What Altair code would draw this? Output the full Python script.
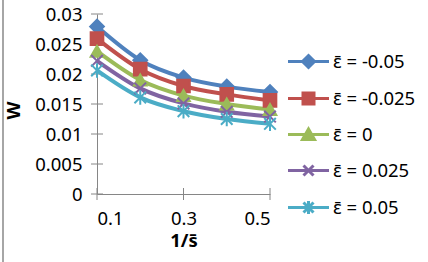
import altair as alt
import pandas as pd

# Wear parameter W versus 1/s for five values of the strain parameter
inv_s = [0.1, 0.2, 0.3, 0.4, 0.5]
series_names = ["ε̄ = -0.05", "ε̄ = -0.025", "ε̄ = 0", "ε̄ = 0.025", "ε̄ = 0.05"]
w_eps_m005 = [0.0279, 0.0223, 0.0194, 0.0179, 0.0170]
w_eps_m0025 = [0.0259, 0.0208, 0.0180, 0.0166, 0.0156]
w_eps_0 = [0.0238, 0.0190, 0.0164, 0.0150, 0.0141]
w_eps_0025 = [0.0222, 0.0176, 0.0151, 0.0137, 0.0129]
w_eps_005 = [0.0206, 0.0161, 0.0138, 0.0125, 0.0117]
y_ticks = [0, 0.005, 0.01, 0.015, 0.02, 0.025, 0.03]
x_ticks = [0.1, 0.3, 0.5]

colors = ["#4F81BD", "#C0504D", "#9BBB59", "#8064A2", "#4BACC6"]

rows = []
for name, vals in zip(series_names, [w_eps_m005, w_eps_m0025, w_eps_0, w_eps_0025, w_eps_005]):
    for xv, yv in zip(inv_s, vals):
        rows.append({"inv_s": xv, "W": yv, "series": name})
df = pd.DataFrame(rows)
ytick_df = pd.DataFrame({"W": y_ticks})
xtick_df = pd.DataFrame({"inv_s": x_ticks})

FONT = "Noto Sans"
FS = 18.5
AXIS_GREY = "#868686"
H = 180

# marker shape and area for each curve
marker_paths = [
    "diamond",
    "square",
    "triangle-up",
    "M-0.8,-0.8L0.8,0.8M-0.8,0.8L0.8,-0.8",
    "M-0.8,-0.8L0.8,0.8M-0.8,0.8L0.8,-0.8M0,-1L0,1",
]
marker_sizes = [190, 160, 160, 210, 210]
# legend keys: a line segment with the marker in the middle
key_paths = [
    "M-2.05,0L2.05,0M0,-0.6L0.6,0L0,0.6L-0.6,0Z",
    "M-2.05,0L2.05,0M-0.55,-0.55L0.55,-0.55L0.55,0.55L-0.55,0.55Z",
    "M-2.05,0L2.05,0M0,-0.55L0.6,0.5L-0.6,0.5Z",
    "M-2.05,0L2.05,0M-0.5,-0.5L0.5,0.5M-0.5,0.5L0.5,-0.5",
    "M-2.05,0L2.05,0M-0.5,-0.5L0.5,0.5M-0.5,0.5L0.5,-0.5M0,-0.65L0,0.65",
]

x_scale = alt.Scale(domain=[0.1, 0.5], nice=False, zero=False)
y_scale = alt.Scale(domain=[0, 0.03], nice=False)

x_enc = alt.X(
    "inv_s:Q", scale=x_scale,
    axis=alt.Axis(
        values=x_ticks, format="~g", title="1/s̄", grid=False, ticks=False,
        domainColor=AXIS_GREY, labelOverlap=False,
        labelFont=FONT, labelFontSize=FS, labelColor="black", labelPadding=15,
        titleFont=FONT, titleFontSize=FS, titleFontWeight="bold", titleColor="black",
        titlePadding=4,
    ),
)
y_enc = alt.Y(
    "W:Q", scale=y_scale,
    axis=alt.Axis(
        values=y_ticks, format="~g", title="W", grid=False, ticks=False,
        domainColor=AXIS_GREY, labelOverlap=False,
        labelFont=FONT, labelFontSize=FS, labelColor="black", labelPadding=15,
        titleFont=FONT, titleFontSize=FS, titleFontWeight="bold", titleColor="black",
        titleX=-74, titleY=96, titleAlign="center",
    ),
)

# tick marks crossing the axis lines
y_tick_marks = alt.Chart(ytick_df).mark_rule(color=AXIS_GREY).encode(
    y=y_enc, x=alt.value(-6), x2=alt.value(6)
)
x_tick_marks = alt.Chart(xtick_df).mark_rule(color=AXIS_GREY).encode(
    x=x_enc, y=alt.value(H - 6), y2=alt.value(H + 6)
)

layers = [y_tick_marks, x_tick_marks]
base = alt.Chart(df)
for name, col in zip(series_names, colors):
    layers.append(
        base.transform_filter(alt.datum.series == name)
        .mark_line(strokeWidth=4, interpolate="monotone", color=col)
        .encode(x=x_enc, y=y_enc)
    )
for name, col, shp, sz in zip(series_names, colors, marker_paths, marker_sizes):
    layers.append(
        base.transform_filter(alt.datum.series == name)
        .mark_point(filled=True, shape=shp, size=sz, fill=col, stroke=col,
                    strokeWidth=2, opacity=1)
        .encode(x=x_enc, y=y_enc)
    )

# the legend comes from this layer alone (no rows reach it)
legend_layer = base.transform_filter("false").mark_point(
    filled=True, size=400, strokeWidth=3, opacity=1
).encode(
    x=x_enc, y=y_enc,
    color=alt.Color("series:N", scale=alt.Scale(domain=series_names, range=colors),
                    legend=alt.Legend(title=None)),
    stroke=alt.Stroke("series:N", scale=alt.Scale(domain=series_names, range=colors),
                      legend=alt.Legend(title=None)),
    shape=alt.Shape("series:N", scale=alt.Scale(domain=series_names, range=key_paths),
                    legend=alt.Legend(title=None)),
)
layers.append(legend_layer)

frame = base.mark_rule(color="#A6A6A6", strokeWidth=1.5).encode(
    x=alt.value(-94), y=alt.value(-14), y2=alt.value(248)
)

chart = (
    alt.layer(*layers, frame)
    .properties(
        width=173, height=H,
        autosize=alt.AutoSizeParams(type="none"),
        padding={"left": 97, "top": 14, "right": 158, "bottom": 68},
        background="white",
    )
    .configure_view(stroke=None)
    .configure_axis(labelOverlap=False)
    .configure_legend(
        orient="none", legendX=200, legendY=36, padding=0,
        symbolStrokeWidth=3, symbolSize=400, labelOffset=13, rowPadding=13,
        labelFont=FONT, labelFontSize=FS, labelColor="black",
    )
)

chart.save("out.html", embed_options={"renderer": "svg", "actions": False})
